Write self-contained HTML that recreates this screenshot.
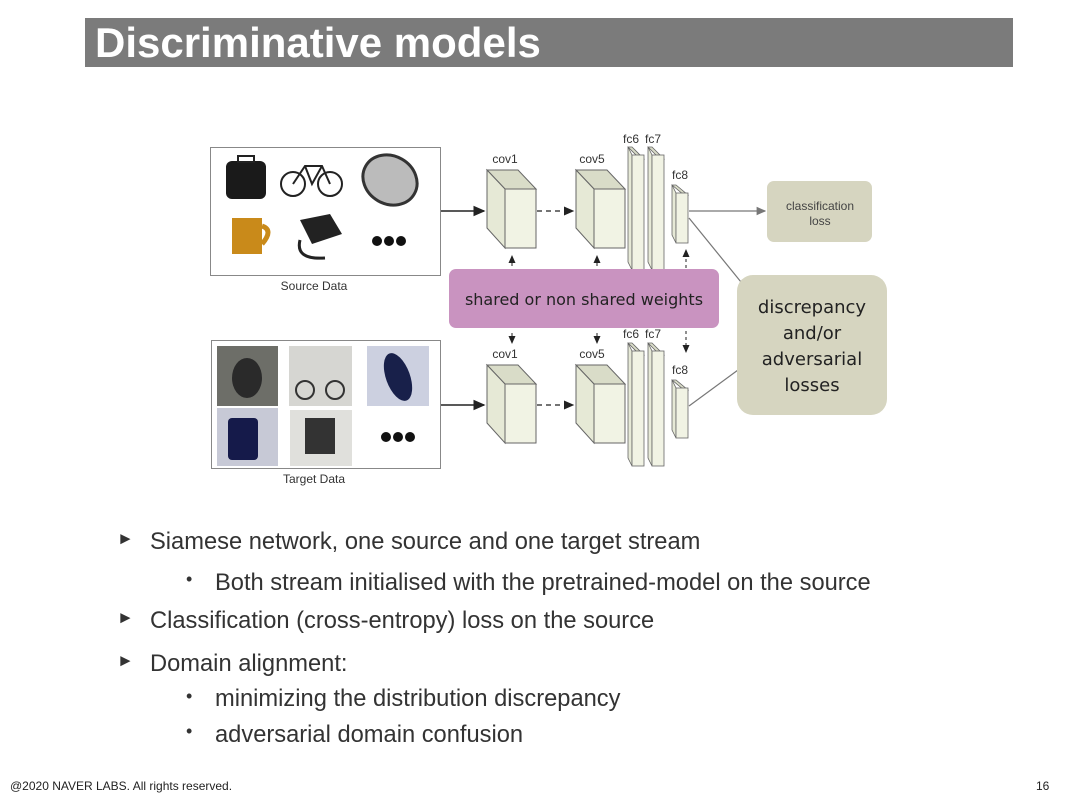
<!DOCTYPE html>
<html><head><meta charset="utf-8"><style>
body{margin:0;width:1080px;height:810px;background:#fff;position:relative;overflow:hidden;font-family:"Liberation Sans",Arial,sans-serif;}
.title{position:absolute;left:85px;top:18px;width:928px;height:49px;background:#7b7b7b;color:#fff;font-weight:bold;font-size:42px;line-height:49px;padding-left:10px;box-sizing:border-box;}
.t{position:absolute;color:#333;font-size:23.7px;white-space:nowrap;}
.foot{position:absolute;font-size:12px;color:#222;top:779px;}
</style></head><body>
<div class="title">Discriminative models</div>
<svg width="1080" height="810" style="position:absolute;left:0;top:0" font-family="Liberation Sans, Arial, sans-serif">
<defs>
<marker id="ar" markerWidth="8" markerHeight="8" refX="7" refY="4" orient="auto"><path d="M0,0.5 L8,4 L0,7.5z" fill="#222"/></marker>
<marker id="ag" markerWidth="8" markerHeight="8" refX="7" refY="4" orient="auto"><path d="M0,0.5 L8,4 L0,7.5z" fill="#777"/></marker>
<g id="cube">
<polygon points="0,0 31,0 49,19 18,19" fill="#d9dcc8" stroke="#666" stroke-width="1"/>
<polygon points="0,0 18,19 18,78 0,58" fill="#e6e9d6" stroke="#666" stroke-width="1"/>
<rect x="18" y="19" width="31" height="59" fill="#f1f3e4" stroke="#666" stroke-width="1"/>
</g>
<g id="fc">
<polygon points="0,0 4,0 16,12 12,12" fill="#d9dcc8" stroke="#666" stroke-width="0.8"/>
<polygon points="0,0 4,8 4,123 0,115" fill="#e6e9d6" stroke="#666" stroke-width="0.8"/>
<rect x="4" y="8" width="12" height="115" fill="#f1f3e4" stroke="#666" stroke-width="0.8"/>
</g>
<g id="fc8">
<polygon points="0,0 4,0 16,10 12,10" fill="#d9dcc8" stroke="#666" stroke-width="0.8"/>
<polygon points="0,0 4,8 4,58 0,50" fill="#e6e9d6" stroke="#666" stroke-width="0.8"/>
<rect x="4" y="8" width="12" height="50" fill="#f1f3e4" stroke="#666" stroke-width="0.8"/>
</g>
</defs>
<rect x="210.5" y="147.5" width="230" height="128" fill="#fff" stroke="#888"/>
<rect x="226" y="161" width="40" height="38" rx="6" fill="#1a1a1a"/>
<rect x="238" y="156" width="16" height="6" fill="none" stroke="#222" stroke-width="2"/>
<g stroke="#222" stroke-width="2" fill="none"><circle cx="293" cy="184" r="12"/><circle cx="330" cy="184" r="12"/><path d="M293,184 L305,166 L322,166 L330,184 M305,166 L312,184 L322,166"/></g>
<ellipse cx="390" cy="180" rx="28" ry="24" fill="#bbb" stroke="#333" stroke-width="3" transform="rotate(30 390 180)"/>
<path d="M232,218 h30 v36 h-30z" fill="#c98a1a"/><path d="M262,226 q12,4 0,18" stroke="#c98a1a" stroke-width="5" fill="none"/>
<path d="M300,220 l30,-6 l12,20 l-30,10z" fill="#222"/><path d="M300,240 q-5,20 25,18" stroke="#222" stroke-width="3" fill="none"/>
<circle cx="377" cy="241" r="5" fill="#111"/><circle cx="389" cy="241" r="5" fill="#111"/><circle cx="401" cy="241" r="5" fill="#111"/>
<text x="314" y="290" font-size="12" text-anchor="middle" fill="#333">Source Data</text>
<rect x="211.5" y="340.5" width="229" height="128" fill="#fff" stroke="#888"/>
<rect x="217" y="346" width="61" height="60" fill="#6d6e68"/><ellipse cx="247" cy="378" rx="15" ry="20" fill="#2a2a2a"/>
<rect x="289" y="346" width="63" height="60" fill="#d6d6d2"/><g stroke="#333" stroke-width="2" fill="none"><circle cx="305" cy="390" r="9"/><circle cx="335" cy="390" r="9"/></g>
<rect x="367" y="346" width="62" height="60" fill="#ccd0e0"/><ellipse cx="398" cy="377" rx="12" ry="25" fill="#18204a" transform="rotate(-20 398 377)"/>
<rect x="217" y="408" width="61" height="58" fill="#c7c9d6"/><rect x="228" y="418" width="30" height="42" rx="4" fill="#151a4a"/>
<rect x="290" y="410" width="62" height="56" fill="#e0e0dc"/><rect x="305" y="418" width="30" height="36" fill="#333"/>
<circle cx="386" cy="437" r="5" fill="#111"/><circle cx="398" cy="437" r="5" fill="#111"/><circle cx="410" cy="437" r="5" fill="#111"/>
<text x="314" y="483" font-size="12" text-anchor="middle" fill="#333">Target Data</text>
<line x1="441" y1="211" x2="484" y2="211" stroke="#222" stroke-width="1.5" marker-end="url(#ar)"/>
<use href="#cube" x="487" y="170"/>
<line x1="537" y1="211" x2="573" y2="211" stroke="#222" stroke-width="1.3" stroke-dasharray="5,4" marker-end="url(#ar)"/>
<use href="#cube" x="576" y="170"/>
<use href="#fc" x="628" y="147"/><use href="#fc" x="648" y="147"/><use href="#fc8" x="672" y="185"/>
<text x="505" y="163" font-size="12" text-anchor="middle" fill="#333">cov1</text>
<text x="592" y="163" font-size="12" text-anchor="middle" fill="#333">cov5</text>
<text x="631" y="143" font-size="12" text-anchor="middle" fill="#333">fc6</text>
<text x="653" y="143" font-size="12" text-anchor="middle" fill="#333">fc7</text>
<text x="680" y="179" font-size="12" text-anchor="middle" fill="#333">fc8</text>
<line x1="689" y1="211" x2="765" y2="211" stroke="#777" stroke-width="1.2" marker-end="url(#ag)"/>
<line x1="441" y1="405" x2="484" y2="405" stroke="#222" stroke-width="1.5" marker-end="url(#ar)"/>
<use href="#cube" x="487" y="365"/>
<line x1="537" y1="405" x2="573" y2="405" stroke="#222" stroke-width="1.3" stroke-dasharray="5,4" marker-end="url(#ar)"/>
<use href="#cube" x="576" y="365"/>
<use href="#fc" x="628" y="343"/><use href="#fc" x="648" y="343"/><use href="#fc8" x="672" y="380"/>
<text x="505" y="358" font-size="12" text-anchor="middle" fill="#333">cov1</text>
<text x="592" y="358" font-size="12" text-anchor="middle" fill="#333">cov5</text>
<text x="631" y="338" font-size="12" text-anchor="middle" fill="#333">fc6</text>
<text x="653" y="338" font-size="12" text-anchor="middle" fill="#333">fc7</text>
<text x="680" y="374" font-size="12" text-anchor="middle" fill="#333">fc8</text>
<line x1="512" y1="266" x2="512" y2="256" stroke="#222" marker-end="url(#ar)"/>
<line x1="597" y1="266" x2="597" y2="256" stroke="#222" marker-end="url(#ar)"/>
<line x1="686" y1="268" x2="686" y2="250" stroke="#222" stroke-dasharray="3,3" marker-end="url(#ar)"/>
<line x1="512" y1="333" x2="512" y2="343" stroke="#222" marker-end="url(#ar)"/>
<line x1="597" y1="333" x2="597" y2="343" stroke="#222" marker-end="url(#ar)"/>
<line x1="686" y1="331" x2="686" y2="352" stroke="#222" stroke-dasharray="3,3" marker-end="url(#ar)"/>
<line x1="689" y1="218" x2="741" y2="282" stroke="#777" stroke-width="1.2"/>
<line x1="689" y1="406" x2="738" y2="370" stroke="#777" stroke-width="1.2"/>
<rect x="449" y="269" width="270" height="59" rx="7" fill="#c993c0"/>
<text x="584" y="305" font-size="16" text-anchor="middle" fill="#222" font-family="DejaVu Sans, sans-serif">shared or non shared weights</text>
<rect x="767" y="181" width="105" height="61" rx="7" fill="#d6d5c0"/>
<text x="820" y="210" font-size="12" text-anchor="middle" fill="#444">classification</text>
<text x="820" y="225" font-size="12" text-anchor="middle" fill="#444">loss</text>
<rect x="737" y="275" width="150" height="140" rx="16" fill="#d6d5c0"/>
<g font-size="18" text-anchor="middle" fill="#222" font-family="DejaVu Sans, sans-serif">
<text x="812" y="313">discrepancy</text><text x="812" y="339">and/or</text><text x="812" y="365">adversarial</text><text x="812" y="391">losses</text></g>
</svg>
<div class="t" style="left:117px;top:529px;font-size:17px">►</div>
<div class="t" style="left:150px;top:529px">Siamese network, one source and one target stream</div>
<div class="t" style="left:186px;top:569px;font-size:18px">•</div>
<div class="t" style="left:215px;top:570px">Both stream initialised with the pretrained-model on the source</div>
<div class="t" style="left:117px;top:608px;font-size:17px">►</div>
<div class="t" style="left:150px;top:608px">Classification (cross-entropy) loss on the source</div>
<div class="t" style="left:117px;top:651px;font-size:17px">►</div>
<div class="t" style="left:150px;top:651px">Domain alignment:</div>
<div class="t" style="left:186px;top:686px;font-size:18px">•</div>
<div class="t" style="left:215px;top:686px">minimizing the distribution discrepancy</div>
<div class="t" style="left:186px;top:721px;font-size:18px">•</div>
<div class="t" style="left:215px;top:722px">adversarial domain confusion</div>
<div class="foot" style="left:10px">@2020 NAVER LABS. All rights reserved.</div>
<div class="foot" style="left:1036px">16</div>
</body></html>
